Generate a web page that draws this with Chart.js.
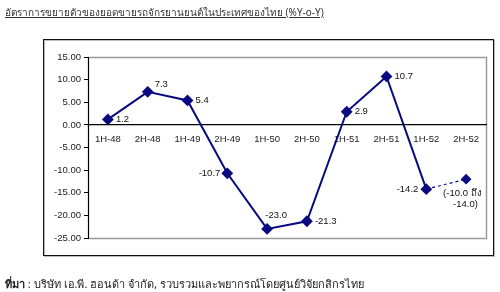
<!DOCTYPE html>
<html><head><meta charset="utf-8">
<script src="https://cdn.jsdelivr.net/npm/chart.js@4.4.1/dist/chart.umd.min.js"></script>
<style>
html,body{margin:0;padding:0;background:#fff;width:500px;height:292px;overflow:hidden;}
#wrap{position:relative;width:500px;height:292px;}
canvas{position:absolute;left:0;top:0;}
.title{position:absolute;left:5px;top:5px;font-family:Tahoma,"Noto Sans","DejaVu Sans",sans-serif;font-size:10px;color:#333;text-decoration:underline;white-space:nowrap;}
.src{position:absolute;left:5px;top:275px;font-family:Tahoma,"Noto Sans","DejaVu Sans",sans-serif;font-size:11px;color:#222;white-space:nowrap;}
</style></head>
<body><div id="wrap">
<canvas id="c" width="500" height="292"></canvas>
<div class="title">อัตราการขยายตัวของยอดขายรถจักรยานยนต์ในประเทศของไทย (%Y-o-Y)</div>
<div class="src"><b>ที่มา</b> : บริษัท เอ.พี. ฮอนด้า จำกัด, รวบรวมและพยากรณ์โดยศูนย์วิจัยกสิกรไทย</div>
</div>
<script>
const categories = ["1H-48","2H-48","1H-49","2H-49","1H-50","2H-50","1H-51","2H-51","1H-52","2H-52"];
const actual = [1.2, 7.3, 5.4, -10.7, -23.0, -21.3, 2.9, 10.7, -14.2, null];
const forecast = [null, null, null, null, null, null, null, null, -14.2, -12.0];
const pointLabels = ["1.2","7.3","5.4","-10.7","-23.0","-21.3","2.9","10.7","-14.2",["(-10.0 ถึง","-14.0)"]];
const yTicks = [15, 10, 5, 0, -5, -10, -15, -20, -25];

const NAVY = '#0a0a80';
const FONT = '"Liberation Sans", Arial, sans-serif';
// label placement: [dx, dy, align]
const place = [[8,0,'left'],[7,-7,'left'],[8,0,'left'],[-7,0,'right'],[9,-14,'center'],[8,0,'left'],[8,0,'left'],[8,0,'left'],[-8,0,'right'],[-23,14,'left']];

const framePlugin = {
  id:'frame',
  beforeDraw(chart){
    const c = chart.ctx;
    c.save();
    c.strokeStyle = '#bbb'; c.lineWidth = 1;
    c.strokeRect(43.5+1, 39.5+1, 450, 216);
    c.strokeStyle = '#111';
    c.strokeRect(43.5, 39.5, 450, 216);
    const a = chart.chartArea;
    c.strokeStyle = '#9a9a9a'; c.lineWidth = 1.5;
    c.strokeRect(Math.round(a.left)+0.5, Math.round(a.top)+0.5, Math.round(a.right-a.left), Math.round(a.bottom-a.top));
    c.restore();
  },
  afterDatasetsDraw(chart){
    const c = chart.ctx;
    const metaA = chart.getDatasetMeta(0), metaF = chart.getDatasetMeta(1);
    c.save();
    c.font = '9.5px ' + FONT;
    c.fillStyle = '#111';
    c.textBaseline = 'middle';
    pointLabels.forEach((lab, i) => {
      let el = actual[i] !== null ? metaA.data[i] : metaF.data[i];
      const p = place[i];
      c.textAlign = p[2];
      const lines = Array.isArray(lab) ? lab : [lab];
      lines.forEach((t, k) => {
        const off = (k === 1) ? 10 : 0;
        c.fillText(t, el.x + p[0] + off, el.y + p[1] + k*11);
      });
    });
    c.restore();
  }
};

new Chart(document.getElementById('c'), {
  type:'line',
  data:{
    labels: categories,
    datasets:[
      {data: actual, borderColor: NAVY, backgroundColor: NAVY, borderWidth: 2,
       pointStyle:'rectRot', pointRadius:4.5, pointHoverRadius:4.5, spanGaps:false, tension:0},
      {data: forecast, borderColor: NAVY, backgroundColor: NAVY, borderWidth: 1.2, borderDash:[3,3],
       pointStyle:'rectRot', pointRadius:[0,0,0,0,0,0,0,0,0,4.5], tension:0}
    ]
  },
  options:{
    responsive:false, animation:false, devicePixelRatio:1,
    layout:{padding:{left:0, top:57, right:14, bottom:54}},
    plugins:{legend:{display:false}, tooltip:{enabled:false}, title:{display:false}},
    scales:{
      x:{
        position:{y:0}, offset:true,
        grid:{display:false, drawTicks:false},
        border:{display:true, color:'#000', width:1.2},
        ticks:{color:'#222', font:{family:FONT, size:9.5}, padding:9, maxRotation:0, autoSkip:false},
        afterFit(s){ s.height = 0; }
      },
      y:{
        min:-25, max:15,
        afterBuildTicks(s){ s.ticks = yTicks.map(v=>({value:v})); },
        grid:{drawOnChartArea:false, drawTicks:true, tickLength:4, color:'#000'},
        border:{display:true, color:'#000', width:1},
        ticks:{color:'#222', padding:3, font:{family:FONT, size:9.5},
          callback:v=>v.toFixed(2)},
        afterFit(s){ s.width = 88; }
      }
    }
  },
  plugins:[framePlugin]
});
</script>
</body></html>
